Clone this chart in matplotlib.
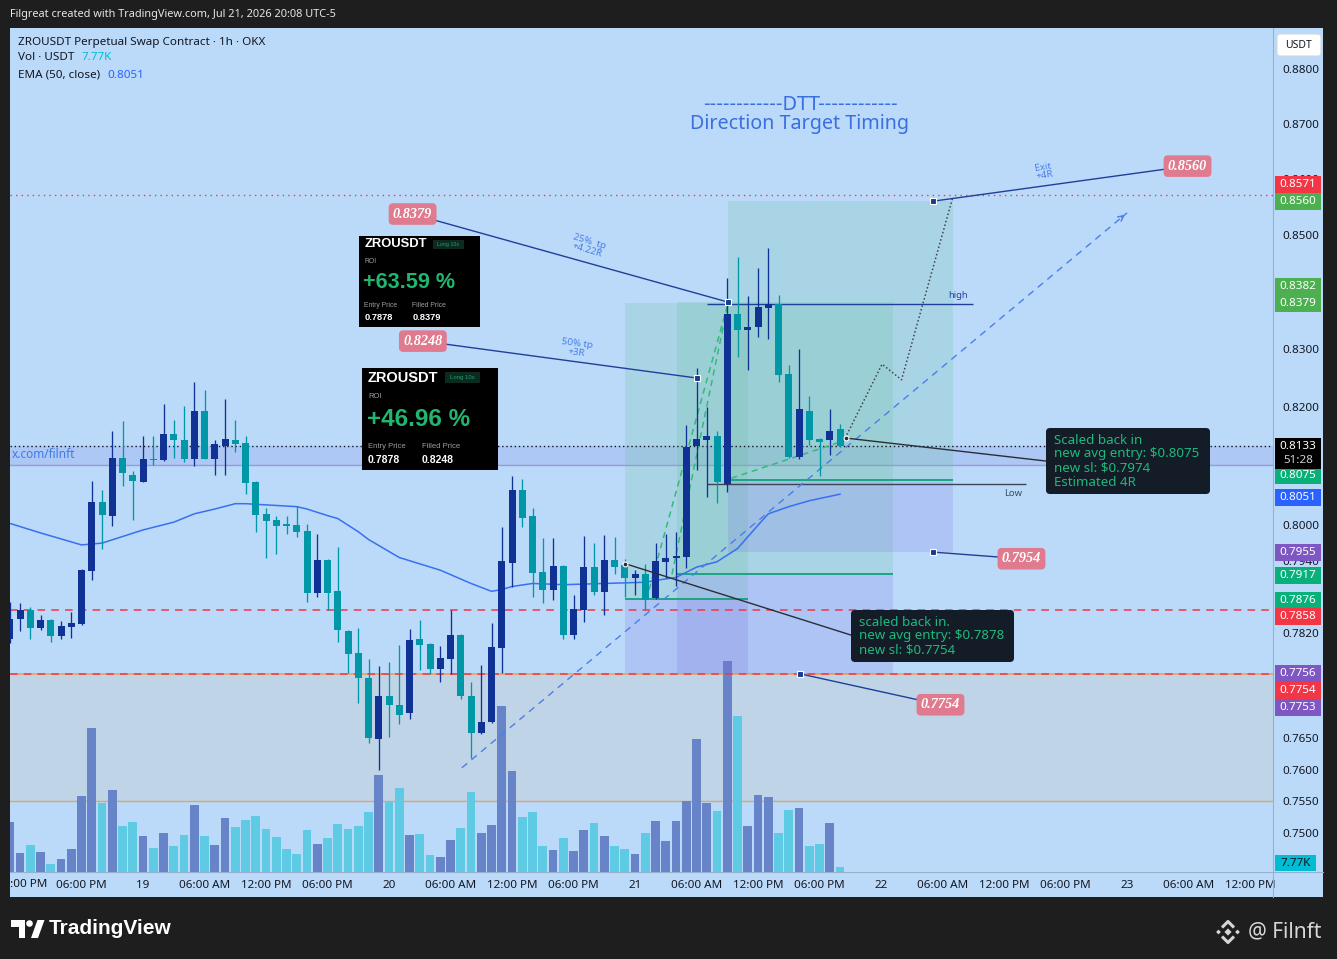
import numpy as np
import matplotlib
matplotlib.use("Agg")
import matplotlib.pyplot as plt
from matplotlib.patches import Rectangle, FancyBboxPatch, Polygon, Circle
from matplotlib.lines import Line2D
from matplotlib.ticker import NullLocator

plt.rcParams['font.family'] = ['Noto Sans', 'DejaVu Sans']

# ---------------- data : hours counted from Jul 19 00:00 (UTC-5), 1h candles ----------------
HOURS = np.arange(-13, 69)
OPEN = [0.7810, 0.7844, 0.7858, 0.7828, 0.7842, 0.7815, 0.7831, 0.7835, 0.7923, 0.8038,
        0.8015, 0.8112, 0.8083, 0.8072, 0.8111, 0.8109, 0.8153, 0.8143, 0.8111, 0.8192,
        0.8111, 0.8133, 0.8143, 0.8138, 0.8072, 0.8018, 0.8008, 0.7999, 0.7999, 0.7989,
        0.7886, 0.7941, 0.7889, 0.7824, 0.7788, 0.7747, 0.7649, 0.7718, 0.7704, 0.7690,
        0.7811, 0.7803, 0.7762, 0.7778, 0.7817, 0.7718, 0.7658, 0.7677, 0.7796, 0.7936,
        0.8058, 0.8014, 0.7921, 0.7891, 0.7931, 0.7817, 0.7858, 0.7929, 0.7888, 0.7941,
        0.7933, 0.7911, 0.7917, 0.7878, 0.7938, 0.7944, 0.7946, 0.8133, 0.8143, 0.8150,
        0.8069, 0.8360, 0.8333, 0.8337, 0.8371, 0.8377, 0.8256, 0.8114, 0.8192, 0.8145,
        0.8142, 0.8162]
HIGH = [0.7871, 0.7869, 0.7863, 0.7850, 0.7843, 0.7840, 0.7855, 0.7926, 0.8073, 0.8058,
        0.8158, 0.8175, 0.8090, 0.8150, 0.8150, 0.8204, 0.8177, 0.8201, 0.8242, 0.8229,
        0.8143, 0.8213, 0.8177, 0.8150, 0.8073, 0.8028, 0.8015, 0.8015, 0.8031, 0.8001,
        0.7984, 0.7943, 0.7963, 0.7825, 0.7828, 0.7778, 0.7767, 0.7773, 0.7801, 0.7827,
        0.7842, 0.7804, 0.7799, 0.7858, 0.7819, 0.7741, 0.7768, 0.7837, 0.7996, 0.8082,
        0.8077, 0.8028, 0.7977, 0.7977, 0.7932, 0.7883, 0.7981, 0.7969, 0.7983, 0.7979,
        0.7943, 0.7924, 0.7935, 0.7970, 0.7985, 0.7987, 0.8168, 0.8266, 0.8199, 0.8158,
        0.8423, 0.8461, 0.8391, 0.8442, 0.8477, 0.8394, 0.8272, 0.8299, 0.8218, 0.8147,
        0.8196, 0.8170]
LOW = [0.7804, 0.7824, 0.7811, 0.7826, 0.7806, 0.7810, 0.7813, 0.7833, 0.7908, 0.7959,
       0.7998, 0.8065, 0.8008, 0.8071, 0.8100, 0.8107, 0.8112, 0.8106, 0.8098, 0.8110,
       0.8084, 0.8084, 0.8122, 0.8051, 0.7988, 0.7944, 0.7951, 0.7984, 0.7979, 0.7871,
       0.7880, 0.7858, 0.7806, 0.7755, 0.7707, 0.7642, 0.7600, 0.7653, 0.7673, 0.7681,
       0.7760, 0.7754, 0.7741, 0.7754, 0.7713, 0.7619, 0.7657, 0.7675, 0.7755, 0.7896,
       0.7996, 0.7880, 0.7870, 0.7875, 0.7811, 0.7811, 0.7839, 0.7883, 0.7850, 0.7918,
       0.7880, 0.7883, 0.7858, 0.7877, 0.7911, 0.7897, 0.7927, 0.8091, 0.8047, 0.8036,
       0.8054, 0.8286, 0.8263, 0.8321, 0.8317, 0.8243, 0.8112, 0.8110, 0.8134, 0.8082,
       0.8117, 0.8131]
CLOSE = [0.7844, 0.7858, 0.7828, 0.7842, 0.7815, 0.7832, 0.7837, 0.7924, 0.8038, 0.8016,
         0.8112, 0.8087, 0.8074, 0.8111, 0.8109, 0.8153, 0.8142, 0.8111, 0.8192, 0.8111,
         0.8136, 0.8145, 0.8136, 0.8070, 0.8016, 0.8006, 0.7998, 0.7998, 0.7988, 0.7886,
         0.7941, 0.7886, 0.7826, 0.7786, 0.7748, 0.7650, 0.7718, 0.7703, 0.7688, 0.7809,
         0.7801, 0.7762, 0.7780, 0.7817, 0.7718, 0.7658, 0.7677, 0.7798, 0.7939, 0.8058,
         0.8011, 0.7919, 0.7891, 0.7931, 0.7817, 0.7860, 0.7929, 0.7888, 0.7941, 0.7929,
         0.7911, 0.7918, 0.7875, 0.7939, 0.7944, 0.7948, 0.8131, 0.8144, 0.8150, 0.8071,
         0.8360, 0.8332, 0.8338, 0.8373, 0.8377, 0.8254, 0.8114, 0.8196, 0.8143, 0.8140,
         0.8158, 0.8133]
VOLUME_K = [77.7, 29.5, 42.0, 31.1, 12.4, 20.2, 35.7, 118.1, 223.8, 107.2,
            127.4, 71.5, 77.7, 55.9, 37.3, 60.6, 40.4, 57.5, 104.1, 55.9,
            42.0, 83.9, 69.9, 80.8, 87.0, 66.8, 54.4, 35.7, 28.0, 65.3,
            43.5, 52.8, 74.6, 66.8, 71.5, 93.2, 150.7, 108.8, 130.5, 57.5,
            59.1, 26.4, 23.3, 49.7, 68.4, 124.3, 60.6, 73.0, 258.0, 157.0,
            85.5, 93.2, 40.4, 34.2, 52.8, 32.6, 65.3, 76.1, 55.9, 40.4,
            35.7, 28.0, 60.6, 79.3, 48.2, 79.3, 110.3, 206.7, 107.2, 94.8,
            327.9, 242.4, 71.5, 119.7, 116.5, 60.6, 96.3, 99.5, 40.4, 43.5,
            76.1, 7.77]
EMA_HOURS = [-13, -10, -7, -6, -4, -2, 0, 3, 5, 7, 9, 10, 12, 15, 16, 18, 19, 21, 22, 25,
             29, 32, 34, 35, 36, 38, 41, 45, 49, 50, 52, 54, 56, 58, 60, 61, 63, 65, 68]
EMA_VALUES = [0.8002, 0.7986, 0.7971, 0.7966, 0.7969, 0.7980, 0.7991, 0.8004, 0.8018, 0.8026,
              0.8035, 0.8035, 0.8033, 0.8030, 0.8026, 0.8015, 0.8010, 0.7988, 0.7975, 0.7945,
              0.7924, 0.7902, 0.7889, 0.7892, 0.7897, 0.7902, 0.7900, 0.7902, 0.7904, 0.7907,
              0.7912, 0.7929, 0.7938, 0.7960, 0.7999, 0.8018, 0.8030, 0.8040, 0.8051]

TIME_TICK_HOURS = [-6, 0, 6, 12, 18, 24, 30, 36, 42, 48, 54, 60, 66, 72, 78, 84, 90, 96, 102, 108]
TIME_TICK_LABELS = ['06:00 PM', '19', '06:00 AM', '12:00 PM', '06:00 PM', '20', '06:00 AM', '12:00 PM',
                    '06:00 PM', '21', '06:00 AM', '12:00 PM', '06:00 PM', '22', '06:00 AM', '12:00 PM',
                    '06:00 PM', '23', '06:00 AM', '12:00 PM']
Y_TICKS = [0.8800, 0.8700, 0.8600, 0.8500, 0.8300, 0.8200, 0.8000, 0.7940, 0.7820,
           0.7650, 0.7600, 0.7550, 0.7500]

CURRENT_PRICE = 0.8133
BAND_LOW = 0.8100
RED_DOTTED = 0.8571
RED_DASHED = [0.7858, 0.7754]
ZONE_LOW, ZONE_HIGH = 0.7550, 0.7754
# long positions: (start hour, end hour, entry, take profit, stop)
POSITIONS = [(47.0, 59.0, 0.7876, 0.8379, 0.7756),
             (52.1, 73.2, 0.7917, 0.8382, 0.7753),
             (57.1, 79.0, 0.8075, 0.8560, 0.7955)]
HIGH_LINE = (55.0, 81.0, 0.8378)
LOW_LINE = (55.0, 86.1, 0.8068)
TREND_H, TREND_P = [31.1, 96.0], [0.7603, 0.8539]
GREEN_PATHS = [([49.1, 57.1], [0.7875, 0.8381]),
               ([51.6, 57.1], [0.7917, 0.8381]),
               ([57.4, 68.3], [0.8078, 0.8141])]
PROJ_H, PROJ_P = [68.5, 72.1, 74.0, 79.0], [0.8146, 0.8273, 0.8246, 0.8567]
# (label hour, label price, anchor hour, anchor price, shown value)
PINK_LABELS = [(26.3, 0.8537, 57.1, 0.8381, 0.8379),
               (27.3, 0.8313, 54.05, 0.8249, 0.8248),
               (101.9, 0.8623, 77.1, 0.8560, 0.8560),
               (85.7, 0.7943, 77.1, 0.7954, 0.7954),
               (77.8, 0.7704, 64.1, 0.7754, 0.7754)]
RR_TEXTS = [("25%  tp\n+4.22R", 43.4, 0.8480, -16.8),
            ("50% tp\n+3R", 42.3, 0.8301, -7.3),
            ("Exit\n+4R", 87.9, 0.8614, 8.5)]
CONNECT_A = ([68.6, 88.1], [0.8146, 0.8107])
CONNECT_B = ([47.0, 69.1], [0.7935, 0.7817])
ROI_CARDS = [(63.59, 0.7878, 0.8379), (46.96, 0.7878, 0.8248)]
AVG_ENTRY_A, NEW_SL_A, EST_R = 0.8075, 0.7974, 4
AVG_ENTRY_B, NEW_SL_B = 0.7878, 0.7754
EMA_LAST = 0.8051
# price-scale badges: (value, colour, vertical nudge in px to avoid overlap)
AXIS_BADGES = [(0.8571, '#f23645', -11), (0.8560, '#4caf50', 0), (0.8382, '#4caf50', -15.6),
               (0.8379, '#4caf50', 0), (0.8075, '#0ab07a', -4), (0.8051, '#2962ff', 3),
               (0.7955, '#7e57c2', 0.5), (0.7917, '#0ab07a', 0.6), (0.7876, '#0ab07a', 0.8),
               (0.7858, '#f23645', 6.8), (0.7756, '#7e57c2', 0.4), (0.7754, '#f23645', 16.2),
               (0.7753, '#7e57c2', 32.6)]

# ---------------- figure ----------------
W, H = 1337, 959
fig = plt.figure(figsize=(W / 100, H / 100), dpi=100)
fig.patch.set_facecolor('#1e1e1e')
PANE = '#bbdafa'
fig.add_artist(Rectangle((10 / W, 1 - 897 / H), (1323 - 10) / W, (897 - 28) / H,
                         transform=fig.transFigure, fc=PANE, ec='none', zorder=-10))

RECT = [10 / W, 1 - 872 / H, 1263 / W, 844 / H]
XLIM = (-12.98, 110.24)
YLIM = (0.74391, 0.88758)


def price_axes(z):
    a = fig.add_axes(RECT, zorder=z)
    a.set_yscale('log')
    a.set_xlim(*XLIM)
    a.set_ylim(*YLIM)
    a.set_facecolor('none')
    return a


# background layer
ax_bg = price_axes(1)
ax_bg.axis('off')
ax_bg.axhspan(ZONE_LOW, ZONE_HIGH, color='#c0d4e8', lw=0)
ax_bg.axhspan(BAND_LOW, CURRENT_PRICE, color=(120 / 255, 130 / 255, 220 / 255, 0.2), lw=0)
ax_bg.axhline(BAND_LOW, color='#9b98d6', lw=1.0)
ax_bg.axhline(ZONE_LOW, color='#e8a25a', lw=1.0)
ax_bg.axhline(ZONE_HIGH, color='#e8a25a', lw=1.2)

# volume layer
up = np.array(CLOSE) >= np.array(OPEN)
ax_vol = fig.add_axes(RECT, zorder=2)
ax_vol.set_xlim(*XLIM)
ax_vol.set_ylim(0, 1311.6)
ax_vol.axis('off')
ax_vol.bar(HOURS, VOLUME_K, width=0.86, color=np.where(up, '#6784c8', '#5ecae4'), lw=0)

# main price layer
ax = price_axes(3)
for s in ax.spines.values():
    s.set_visible(False)

for lvl in RED_DASHED:
    ax.axhline(lvl, color='#f23645', ls=(0, (5, 4)), lw=1.1, zorder=2)
ax.axhline(RED_DOTTED, color='#f23645', ls=(0, (1, 3)), lw=1.0, zorder=2)
ax.axhline(CURRENT_PRICE, color='#131722', ls=(0, (1, 2)), lw=1.0, zorder=2)

for h0, h1, e, tp, sl in POSITIONS:
    ax.add_patch(Rectangle((h0, e), h1 - h0, tp - e, fc=(100 / 255, 190 / 255, 150 / 255, 0.2),
                           ec='none', zorder=1))
    ax.add_patch(Rectangle((h0, sl), h1 - h0, e - sl, fc=(120 / 255, 110 / 255, 220 / 255, 0.2),
                           ec='none', zorder=1))
    ax.hlines(e, h0, h1, color='#12a37a', lw=1.3, zorder=2)

ax.hlines(HIGH_LINE[2], HIGH_LINE[0], HIGH_LINE[1], color='#1f3f99', lw=1.0, zorder=3)
ax.hlines(LOW_LINE[2], LOW_LINE[0], LOW_LINE[1], color='#3d4356', lw=1.0, zorder=3)

ax.plot(EMA_HOURS, EMA_VALUES, color='#3a6ff0', lw=1.1, zorder=4)

for gh, gp in GREEN_PATHS:
    ax.plot(gh, gp, color='#35b97a', ls=(0, (4, 3)), lw=1.1, zorder=4)
ax.plot(PROJ_H, PROJ_P, color='#444444', ls=(0, (1, 1.5)), lw=1.1, zorder=4)
ax.plot(TREND_H, TREND_P, color='#4a7fe8', ls=(0, (5, 4)), lw=1.0, zorder=4)
ax.annotate('', xy=(TREND_H[1], TREND_P[1]), xytext=(TREND_H[1] - 0.75, TREND_P[1] - 0.0011),
            arrowprops=dict(arrowstyle='->', color='#4a7fe8', lw=1.0), zorder=4)

# candles
O = np.array(OPEN); Hi = np.array(HIGH); Lo = np.array(LOW); C = np.array(CLOSE)
cols = np.where(up, '#0f3294', '#0097a6')
ax.vlines(HOURS, Lo, Hi, colors=cols, lw=0.95, zorder=5)
ax.bar(HOURS, np.maximum(np.abs(C - O), 0.00022), bottom=np.minimum(O, C), width=0.68,
       color=cols, lw=0, zorder=6)

# connectors to notes
ax.plot(*CONNECT_A, color='#2a2e39', lw=1.0, zorder=7)
ax.plot(*CONNECT_B, color='#2a2e39', lw=1.0, zorder=7)
ax.plot([CONNECT_A[0][0], CONNECT_B[0][0]], [CONNECT_A[1][0], CONNECT_B[1][0]], 'o', ms=3.5,
        mfc='#2a2e39', mec='white', mew=0.8, zorder=8)

# pink price labels
for lh, lp, ah, ap, val in PINK_LABELS:
    ax.plot([lh, ah], [lp, ap], color='#1f3f99', lw=1.0, zorder=7)
    ax.plot(ah, ap, marker='s', ms=4.5, mfc='#1a3a8f', mec='white', mew=0.8, zorder=8)
    ax.text(lh, lp, f'{val:.4f}', ha='center', va='center', color='white', fontsize=10.3,
            fontweight='bold', fontstyle='italic', family='Liberation Serif', zorder=9,
            bbox=dict(boxstyle='round,pad=0.3,rounding_size=0.3', fc='#e07a8e', ec='none'))
for txt, th, tp, rot in RR_TEXTS:
    ax.text(th, tp, txt, ha='center', va='center', rotation=rot, rotation_mode='anchor',
            color='#4a7ee8', fontsize=7, linespacing=0.95, zorder=8)

# axes ticks
ax.yaxis.tick_right()
ax.set_yticks(Y_TICKS, labels=[f'{v:.4f}' for v in Y_TICKS])
ax.yaxis.set_minor_locator(NullLocator())
ax.tick_params(axis='y', length=0, pad=6.5, labelsize=8.4, labelcolor='#131722')
ax.set_xticks(TIME_TICK_HOURS, labels=TIME_TICK_LABELS)
ax.tick_params(axis='x', length=0, pad=5.5, labelsize=8.4, labelcolor='#131722')
for lbl in ax.get_xticklabels():
    if lbl.get_text() == '20':
        lbl.set_fontweight('bold')
ax.set_xlim(*XLIM)
ax.set_ylim(*YLIM)

# separators
fig.add_artist(Line2D([1273 / W, 1273 / W], [1 - 28 / H, 1 - 897 / H], transform=fig.transFigure,
                      color='#98b0cc', lw=0.8, zorder=5))
fig.add_artist(Line2D([10 / W, 1323 / W], [1 - 872 / H, 1 - 872 / H], transform=fig.transFigure,
                      color='#98b0cc', lw=0.8, zorder=5))

# ---------------- pixel overlay for annotations / chrome ----------------
axp = fig.add_axes([0, 0, 1, 1], zorder=6)
axp.set_xlim(0, W)
axp.set_ylim(H, 0)
axp.axis('off')


def ypix(p):
    return H - ax.transData.transform((0, p))[1]


def T(x, y, s, **kw):
    kw.setdefault('va', 'center')
    kw.setdefault('ha', 'left')
    return axp.text(x, y, s, **kw)


# header / footer
T(10, 14, 'Filgreat created with TradingView.com, Jul 21, 2026 20:08 UTC-5', color='#e6e6e6', fontsize=7.9)
axp.add_patch(Polygon([(11, 920), (25, 920), (25, 938), (18.5, 938), (18.5, 926.5), (11, 926.5)], fc='white', ec='none'))
axp.add_patch(Circle((29.5, 923.5), 3.3, fc='white', ec='none'))
axp.add_patch(Polygon([(31, 938), (37.5, 920), (44.5, 920), (38, 938)], fc='white', ec='none'))
T(49, 929, 'TradingView', color='white', fontsize=15, fontweight='bold', family='Liberation Sans')
for cx, cy, r in [(1228, 932, 3.6), (1218.5, 932, 2.4), (1237.5, 932, 2.4)]:
    axp.add_patch(Polygon([(cx, cy - r), (cx + r, cy), (cx, cy + r), (cx - r, cy)], fc='#d6d6d6', ec='none'))
axp.plot([1222, 1228, 1234], [927.5, 921.5, 927.5], color='#d6d6d6', lw=2.2, solid_capstyle='butt')
axp.plot([1222, 1228, 1234], [936.5, 942.5, 936.5], color='#d6d6d6', lw=2.2, solid_capstyle='butt')
T(1248, 932, '@ Filnft', color='#d6d6d6', fontsize=15)

# legend
T(18, 42, 'ZROUSDT Perpetual Swap Contract · 1h · OKX', color='#131722', fontsize=8.4)
T(18, 58, 'Vol · USDT', color='#131722', fontsize=8.4)
T(81, 58, f'{VOLUME_K[-1]:.2f}K', color='#00bcd4', fontsize=8.4)
T(18, 75, 'EMA (50, close)', color='#131722', fontsize=8.4)
T(107, 75, f'{EMA_LAST:.4f}', color='#2962ff', fontsize=8.4)

# title
T(800, 104, '------------DTT------------', ha='center', color='#3a6fe2', fontsize=13.5,
  family='DejaVu Sans')
T(800, 124, 'Direction Target Timing', ha='center', color='#3a6fe2', fontsize=14.2)

T(12, 454, 'x.com/filnft', color='#3d7ae8', fontsize=8.5)
T(958, 296, 'high', ha='center', color='#2743a0', fontsize=6.8)
T(1013, 493, 'Low', ha='center', color='#3c4a5e', fontsize=6.8)
T(10, 884.5, ':00 PM', color='#131722', fontsize=8.4)


# ROI cards
def card(x0, y0, s, roi, entry, filled):
    axp.add_patch(Rectangle((x0, y0), 136 * s, 102 * s, fc='black', ec='none'))
    f = 'Liberation Sans'
    T(x0 + 6 * s, y0 + 9.5 * s, 'ZROUSDT', color='white', fontsize=10.5 * s, fontweight='bold', family=f)
    axp.add_patch(Rectangle((x0 + 83 * s, y0 + 4 * s), 35 * s, 11 * s, fc='#0c2a1f', ec='none'))
    T(x0 + 100.5 * s, y0 + 9.5 * s, 'Long 10x', ha='center', color='#1aa86a', fontsize=4.3 * s, family=f)
    T(x0 + 6 * s, y0 + 29 * s, 'ROI', color='#9aa0a6', fontsize=5.5 * s, family=f)
    T(x0 + 5 * s, y0 + 52 * s, f'+{roi:.2f} %', color='#22b56f', fontsize=17.5 * s, fontweight='bold', family=f)
    T(x0 + 6 * s, y0 + 78 * s, 'Entry Price', color='#9aa0a6', fontsize=5.5 * s, family=f)
    T(x0 + 60 * s, y0 + 78 * s, 'Filled Price', color='#9aa0a6', fontsize=5.5 * s, family=f)
    T(x0 + 6 * s, y0 + 92 * s, f'{entry:.4f}', color='white', fontsize=7.5 * s, fontweight='bold', family=f)
    T(x0 + 60 * s, y0 + 92 * s, f'{filled:.4f}', color='white', fontsize=7.5 * s, fontweight='bold', family=f)


card(359, 236, 0.89, *ROI_CARDS[0])
card(362, 368, 1.0, *ROI_CARDS[1])


# dark notes
def note(x0, y0, w, h, lines, y_first):
    axp.add_patch(FancyBboxPatch((x0, y0), w, h, boxstyle='round,pad=0,rounding_size=4',
                                 fc='#131c27', ec='none'))
    for i, t in enumerate(lines):
        T(x0 + 8, y_first + 14 * i, t, color='#1fb97c', fontsize=9.6)


note(1046, 428, 164, 66, ['Scaled back in', f'new avg entry: \\${AVG_ENTRY_A:.4f}',
                          f'new sl: \\${NEW_SL_A:.4f}', f'Estimated {EST_R}R'], 440)
note(851, 610, 163, 52, ['scaled back in.', f'new avg entry: \\${AVG_ENTRY_B:.4f}',
                         f'new sl: \\${NEW_SL_B:.4f}'], 622)

# price scale badges
axp.add_patch(FancyBboxPatch((1277, 34), 44, 22, boxstyle='round,pad=0,rounding_size=3',
                             fc='white', ec='#d0d8e0', lw=0.8))
T(1299, 45, 'USDT', ha='center', color='#131722', fontsize=7.5)
for val, col, nudge in AXIS_BADGES:
    yb = ypix(val) + nudge
    axp.add_patch(Rectangle((1275, yb - 8.5), 46, 17, fc=col, ec='none'))
    T(1298, yb, f'{val:.4f}', ha='center', color='white', fontsize=8.4)
yc = ypix(CURRENT_PRICE)
axp.add_patch(Rectangle((1275, yc - 8), 46, 31, fc='black', ec='none'))
T(1298, yc + 0.5, f'{CURRENT_PRICE:.4f}', ha='center', color='white', fontsize=8.4)
T(1298, yc + 15, '51:28', ha='center', color='#d0d0d0', fontsize=8.4)
axp.add_patch(Rectangle((1275, 855), 41, 16, fc='#00bcd4', ec='none'))
T(1295.5, 863, f'{VOLUME_K[-1]:.2f}K', ha='center', color='#131722', fontsize=8.4)

fig.savefig('out.png', dpi=100, facecolor=fig.get_facecolor())
